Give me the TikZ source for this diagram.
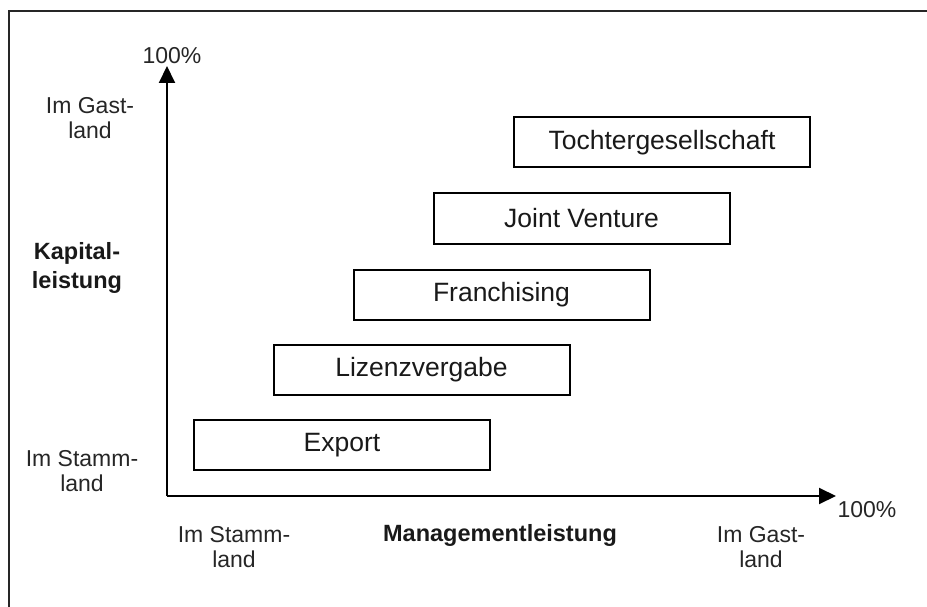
\documentclass[tikz,border=0pt]{standalone}
\usepackage{fontspec}
\setmainfont{Liberation Sans}
\usetikzlibrary{arrows.meta}
\tikzset{
  stagebox/.style={draw=black, line width=2pt, minimum width=296pt, minimum height=50pt, inner sep=0pt, font=\fontsize{26.5}{30}\selectfont, text=black!90},
  axislabel/.style={align=center, inner sep=0pt, font=\fontsize{23}{25}\selectfont, text=black!85},
  boldlabel/.style={align=center, inner sep=0pt, font=\fontsize{23.5}{29}\selectfont\bfseries, text=black!90},
  axisline/.style={line width=2pt, -{Triangle[length=17pt,width=16pt]}},
}
\begin{document}
\begin{tikzpicture}[x=1pt,y=-1pt]
\useasboundingbox (0,0) rectangle (927,607);
\draw[line width=1.6pt, black!85] (9,620) -- (9,11) -- (940,11);
\coordinate (o) at (167,496);
\coordinate (ytip) at (167,66);
\coordinate (xtip) at (836,496);
\draw[axisline] (o) -- (ytip);
\draw[axisline] (o) -- (xtip);
\node[axislabel] (ypc) at (172,56) {100\%};
\node[axislabel] (xpc) at (867,510) {100\%};
\node[axislabel] (ygast) at (90,118) {Im Gast-\\land};
\node[boldlabel] (kap) at (77,268) {Kapital-\\leistung};
\node[axislabel] (ystamm) at (82,471) {Im Stamm-\\land};
\node[axislabel] (xstamm) at (234,547) {Im Stamm-\\land};
\node[boldlabel] (mgmt) at (500,535) {Managementleistung};
\node[axislabel] (xgast) at (761,547) {Im Gast-\\land};
\node[stagebox] (export) at (342,445) {Export};
\node[stagebox] (lizenz) at (421.5,370) {Lizenzvergabe};
\node[stagebox] (franch) at (501.5,294.5) {Franchising};
\node[stagebox] (joint) at (581.5,218.5) {Joint Venture};
\node[stagebox] (tochter) at (662,142.5) {Tochtergesellschaft};
\end{tikzpicture}
\end{document}
